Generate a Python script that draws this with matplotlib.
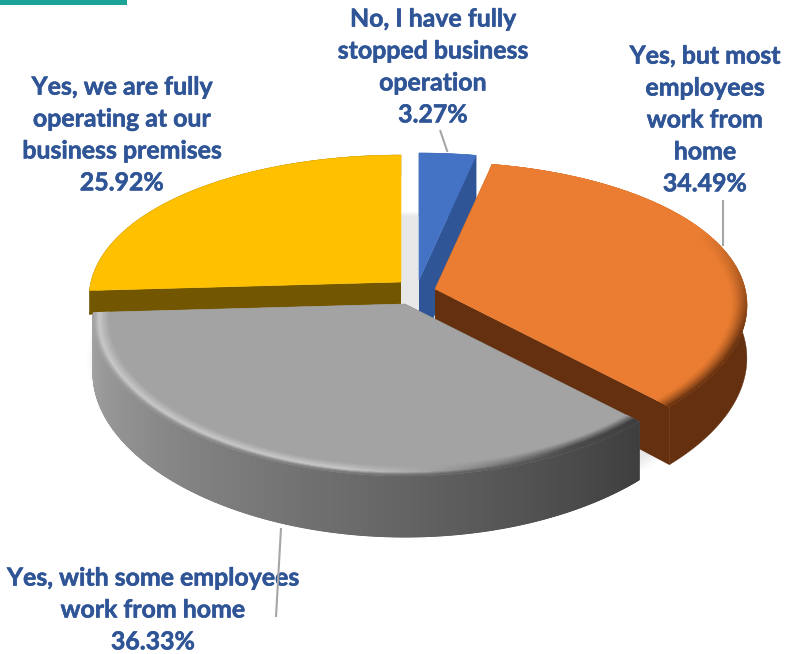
import numpy as np
import matplotlib
matplotlib.use("Agg")
import matplotlib.pyplot as plt
import matplotlib.patheffects as pe
from matplotlib.collections import PolyCollection
from matplotlib.colors import to_rgb
from matplotlib.patches import Polygon, Rectangle

categories = ["No, I have fully\nstopped business\noperation",
              "Yes, but most\nemployees\nwork from\nhome",
              "Yes, with some employees\nwork from home",
              "Yes, we are fully\noperating at our\nbusiness premises"]
values = [3.27, 34.49, 36.33, 25.92]

top_colors = ["#4472C4", "#EA7D31", "#A3A3A3", "#FFC000"]
wall_colors = ["#2F5597", "#64300F", "#6E6E6E", "#735700"]
apex = [(419, 280), (435, 289), (405, 304), (401, 282)]
depth = [72.0, 52.0, 52.0, 24.0]
label_xy = [(433, 67), (705, 120), (153, 610), (122, 135)]
leaders = [((440, 130), (447.5, 152)), ((722.5, 200), (722.5, 246)), ((281, 528), (276, 617))]

R, Ry, KX, KY = 310.0, 146.0, 0.11, 0.15
TEXT = "#2F5597"

fig = plt.figure(figsize=(7.85, 6.54), dpi=100)
ax = fig.add_axes([0, 0, 1, 1])
ax.set_xlim(0, 785)
ax.set_ylim(654, 0)
ax.axis("off")


def proj(a, th, r=1.0, z=0.0):
    th = np.atleast_1d(th)
    u, v = r * np.sin(th), -r * np.cos(th)
    sx, sy = 1 / (1 - KX * v), 1 / (1 - KY * v)
    return np.column_stack([a[0] + R * u * sx, a[1] + Ry * v * sy + z * sy])


def mix(c1, c2, t):
    return np.array(c1) * (1 - t) + np.array(c2) * t


def wall_col(i, th):
    deg = np.degrees(th)
    if i == 2:  # gray: light on the left, dark on the right
        t = np.clip((266 - deg) / 130, 0, 1)
        return mix(to_rgb("#A2A2A2"), to_rgb("#3E3E3E"), t ** 1.15)
    return np.array(to_rgb(wall_colors[i]))


def bevel_col(i, th, b):
    """Colour across the bevel: b=0 on the inner side, b=1 at the outer edge."""
    deg = np.degrees(th)
    base = np.array(to_rgb(top_colors[i]))
    if i == 1:
        w = np.clip((deg - 65) / 45, 0, 1)
        return mix(base, wall_col(1, th), w * b ** 1.3)
    w = np.clip((deg - 150) / 40, 0, 1)
    e = mix(wall_col(2, th), to_rgb("#C8C8C8"), w)
    if b < 0.65:
        return mix(base, e, b / 0.65)
    return mix(e, wall_col(2, th), (b - 0.65) / 0.35)


# soft ground shadow
fr = np.linspace(0, 2 * np.pi, 300)
cx, cy = 410, 290
for sc in np.linspace(1.035, 0.99, 8):
    ax.add_patch(Polygon(proj((cx, cy + 52), fr, sc), closed=True, fc="#000000", ec="none",
                         alpha=0.012, zorder=1))

edges = np.cumsum([0] + values) / np.sum(values) * 2 * np.pi
RIM = [0, 0.05, 0.05, 0]
ZORD = [9.5, 11, 12, 9]
for i in [3, 0, 1, 2]:
    z = ZORD[i]
    a = apex[i]
    H = depth[i]
    t0, t1 = edges[i], edges[i + 1]
    th = np.linspace(t0, t1, int(np.degrees(t1 - t0) * 3) + 3)
    # radial end walls
    for tt in (t0, t1):
        p = proj(a, tt)[0]
        b = proj(a, tt, 1.0, H)[0]
        ax.add_patch(Polygon([a, p, b, (a[0], a[1] + H)], closed=True,
                             fc=wall_col(i, tt), ec="none", zorder=z))
    # outer wall
    top = proj(a, th)
    bot = proj(a, th, 1.0, H)
    ax.add_patch(Polygon(np.vstack([top, bot[::-1]]), closed=True, fc=wall_colors[i],
                         ec=wall_colors[i], lw=0.3, zorder=z))
    if i == 2:
        quads = [[top[j], top[j + 1], bot[j + 1], bot[j]] for j in range(len(th) - 1)]
        cols = [wall_col(i, th[j]) for j in range(len(th) - 1)]
        ax.add_collection(PolyCollection(quads, facecolors=cols, edgecolors=cols, linewidths=0.8, zorder=z))
    # top face
    ax.add_patch(Polygon(np.vstack([[a], proj(a, th)]), closed=True, fc=top_colors[i],
                         ec=top_colors[i], lw=0.4, zorder=z + 0.1))
    # bevel
    if RIM[i] > 0:
        bands = np.linspace(0, 1, 11)
        quads, cols = [], []
        for b0, b1 in zip(bands[:-1], bands[1:]):
            p0 = proj(a, th, 1 - RIM[i] * (1 - b0))
            p1 = proj(a, th, 1 - RIM[i] * (1 - b1))
            for j in range(len(th) - 1):
                quads.append([p0[j], p0[j + 1], p1[j + 1], p1[j]])
                cols.append(bevel_col(i, th[j], (b0 + b1) / 2))
        ax.add_collection(PolyCollection(quads, facecolors=cols, edgecolors=cols, linewidths=0.5, zorder=z + 0.2))

for (p, q) in leaders:
    ax.plot([p[0], q[0]], [p[1], q[1]], color="#A6A6A6", lw=1.5, zorder=30, solid_capstyle="butt")

ax.add_patch(Rectangle((0, 0), 127, 5, fc="#1AA396", ec="none", zorder=2))

for name, val, (x, y) in zip(categories, values, label_xy):
    ax.text(x, y, f"{name}\n{val:.2f}%", ha="center", va="center", family="Lato", weight="bold",
            fontsize=17.9, color=TEXT, linespacing=1.47, zorder=25,
            path_effects=[pe.withStroke(linewidth=0.4, foreground=TEXT)])

fig.savefig("out.png", dpi=100)
